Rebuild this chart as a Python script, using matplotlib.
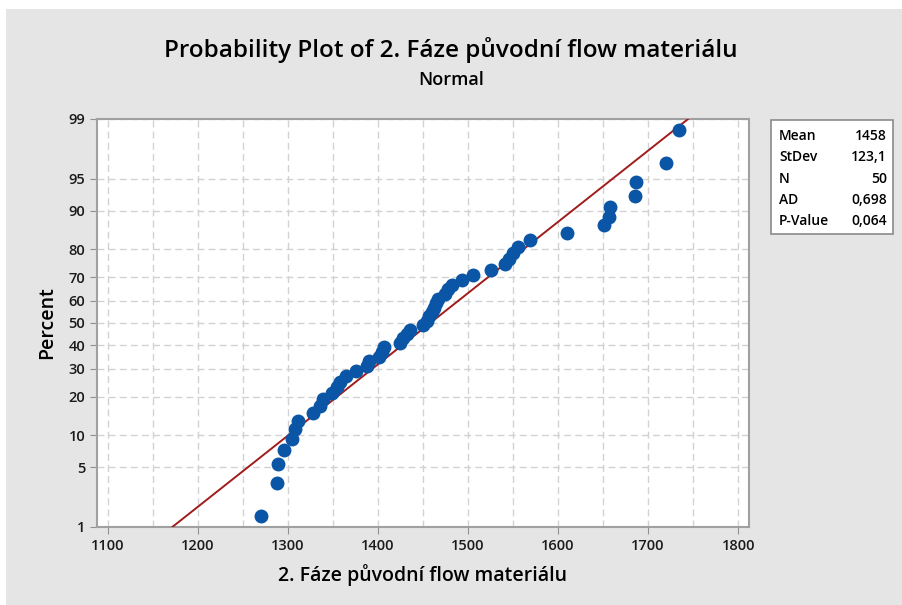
import numpy as np
import matplotlib
matplotlib.use("Agg")
import matplotlib.pyplot as plt
from matplotlib.patches import Rectangle
from statistics import NormalDist

# sorted sample values (50 points)
values = [1270, 1288, 1289.5, 1296, 1304.5, 1308, 1311.5, 1327.5, 1335.5, 1338.5,
          1348.5, 1354, 1358, 1365, 1376, 1388, 1390, 1401, 1404, 1407,
          1425, 1428, 1432, 1436, 1450, 1454, 1457, 1460, 1462, 1464,
          1467, 1474, 1478, 1482, 1493, 1505, 1526, 1541, 1545, 1550,
          1555, 1569, 1610, 1651, 1656, 1658, 1685, 1687, 1720, 1734]
mean = 1458
stdev = 123.1
stat_names = ['Mean', 'StDev', 'N', 'AD', 'P-Value']
stat_values = ['1458', '123,1', '50', '0,698', '0,064']
percent_ticks = [1, 5, 10, 20, 30, 40, 50, 60, 70, 80, 90, 95, 99]
x_ticks = [1100, 1200, 1300, 1400, 1500, 1600, 1700, 1800]

plt.rcParams['font.family'] = ['Open Sans', 'DejaVu Sans']

nd = NormalDist()
_ppf = np.vectorize(nd.inv_cdf, otypes=[float])
_cdf = np.vectorize(nd.cdf, otypes=[float])

def fwd(p):
    p = np.clip(np.asarray(p, dtype=float) / 100.0, 1e-9, 1 - 1e-9)
    return _ppf(p)

def inv(z):
    return _cdf(np.asarray(z, dtype=float)) * 100.0

n = len(values)
rank = np.arange(1, n + 1)
pct = (rank - 0.3) / (n + 0.4) * 100  # median ranks, like Minitab

fig = plt.figure(figsize=(9.02, 6.05), dpi=100, facecolor='white')
fig.patches.append(Rectangle((6 / 902, 0), 1, 1 - 9 / 605, transform=fig.transFigure,
                             facecolor='#e5e5e5', edgecolor='none', zorder=-10))

ax = fig.add_axes([97 / 902, 1 - 527 / 605, (749 - 97) / 902, (527 - 119) / 605])
ax.set_yscale('function', functions=(fwd, inv))
ax.set_ylim(1, 99)
ax.set_xlim(1088, 1812)

# fitted line
fit_p = np.array([1, 99])
fit_x = mean + stdev * fwd(fit_p)
ax.plot(fit_x, fit_p, color='#a01c1c', lw=1.4, zorder=3)
ax.plot(values, pct, 'o', color='#0a55a5', ms=9, zorder=4)

ax.set_yticks(percent_ticks)
ax.set_yticklabels([str(t) for t in percent_ticks])
ax.set_xticks(x_ticks)
ax.set_xticks(np.arange(1150, 1800, 100), minor=True)
ax.yaxis.set_minor_locator(matplotlib.ticker.NullLocator())
ax.grid(True, which='both', axis='x', color='#d2d2d2', ls=(0, (5, 3)), lw=1)
ax.grid(True, which='major', axis='y', color='#d2d2d2', ls=(0, (5, 3)), lw=1)
ax.tick_params(axis='both', which='major', direction='out', length=5, color='#909090',
               labelsize=10.5, labelcolor='#1a1a1a')
ax.tick_params(axis='x', which='minor', length=0)
for s in ax.spines.values():
    s.set_color('#a0a0a0')
    s.set_linewidth(1.5)
for lab in ax.get_yticklabels() + ax.get_xticklabels():
    lab.set_fontweight('semibold')

ax.set_xlabel('2. Fáze původní flow materiálu', fontsize=14, labelpad=8, fontweight='semibold')
ax.set_ylabel('Percent', fontsize=14, labelpad=8, fontweight='semibold')

fig.text(0.5, 1 - 50 / 605, 'Probability Plot of 2. Fáze původní flow materiálu',
         ha='center', va='center', fontsize=17.5, fontweight='semibold')
fig.text(0.5, 1 - 80 / 605, 'Normal', ha='center', va='center', fontsize=13,
         fontweight='semibold')

# stats box
fig.patches.append(Rectangle((771 / 902, 1 - 234 / 605), (893 - 771) / 902, (234 - 120) / 605,
                             transform=fig.transFigure, facecolor='white',
                             edgecolor='#8a8a8a', lw=1.2))
for k, (nm, v) in enumerate(zip(stat_names, stat_values)):
    y = 1 - (136 + 21.3 * k) / 605
    fig.text(779 / 902, y, nm, ha='left', va='center', fontsize=10, fontweight='semibold')
    fig.text(887 / 902, y, v, ha='right', va='center', fontsize=10, fontweight='semibold')

fig.savefig('out.png', dpi=100)
